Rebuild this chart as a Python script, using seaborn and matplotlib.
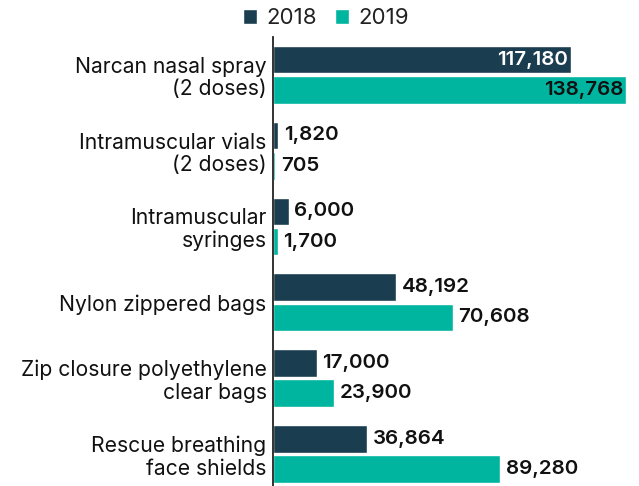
import pandas as pd
import matplotlib
matplotlib.use("Agg")
import matplotlib.pyplot as plt
import seaborn as sns

# data
categories = [
    "Narcan nasal spray\n(2 doses)",
    "Intramuscular vials\n(2 doses)",
    "Intramuscular\nsyringes",
    "Nylon zippered bags",
    "Zip closure polyethylene\nclear bags",
    "Rescue breathing\nface shields",
]
years = ["2018", "2019"]
values_2018 = [117180, 1820, 6000, 48192, 17000, 36864]
values_2019 = [138768, 705, 1700, 70608, 23900, 89280]
colors = ["#1b3d50", "#00b5a0"]

df = pd.DataFrame({
    "item": categories * 2,
    "year": [years[0]] * len(categories) + [years[1]] * len(categories),
    "value": values_2018 + values_2019,
})

sns.set_theme(style="white")
plt.rcParams["font.family"] = ["Inter", "DejaVu Sans"]

fig = plt.figure(figsize=(6.39, 4.86), dpi=100)
ax = fig.add_axes([0.428, -0.012, 0.5516, 0.936])

sns.barplot(data=df, y="item", x="value", hue="year", order=categories,
            hue_order=years, palette=colors, orient="h", width=0.8, gap=0.09,
            saturation=1, ax=ax, legend=True)

ax.set_xlim(0, max(values_2019))
ax.set_ylim(len(categories) - 0.5, -0.5)
ax.set_xlabel("")
ax.set_ylabel("")
ax.set_xticks([])
for s in ["top", "right", "bottom"]:
    ax.spines[s].set_visible(False)
ax.spines["left"].set_color("#222222")
ax.spines["left"].set_linewidth(1.3)
ax.tick_params(axis="y", length=0, pad=5, labelsize=15.2, labelcolor="#111111")
for lbl in ax.get_yticklabels():
    lbl.set_horizontalalignment("right")
    lbl.set_multialignment("right")
    lbl.set_linespacing(1.15)

xmax = max(values_2019)
for cont in ax.containers:
    for bar in cont:
        w = bar.get_width()
        y = bar.get_y() + bar.get_height() / 2
        txt = f"{int(w):,}"
        if w > 0.8 * xmax:
            color = "white" if cont is ax.containers[0] else "#111111"
            ax.text(w - xmax * 0.008, y, txt, ha="right", va="center",
                    fontsize=14.8, fontweight="semibold", color=color)
        else:
            ax.text(w + xmax * 0.016, y, txt, ha="left", va="center",
                    fontsize=14.8, fontweight="semibold", color="#111111")

handles, labels = ax.get_legend_handles_labels()
ax.legend_.remove()
fig.legend(handles, labels, loc="center", bbox_to_anchor=(0.51, 0.962),
           ncol=2, frameon=False, fontsize=16, handlelength=0.65,
           handleheight=0.65, handletextpad=0.4, columnspacing=0.8,
           labelcolor="#222222")

fig.savefig("out.png", dpi=100)
